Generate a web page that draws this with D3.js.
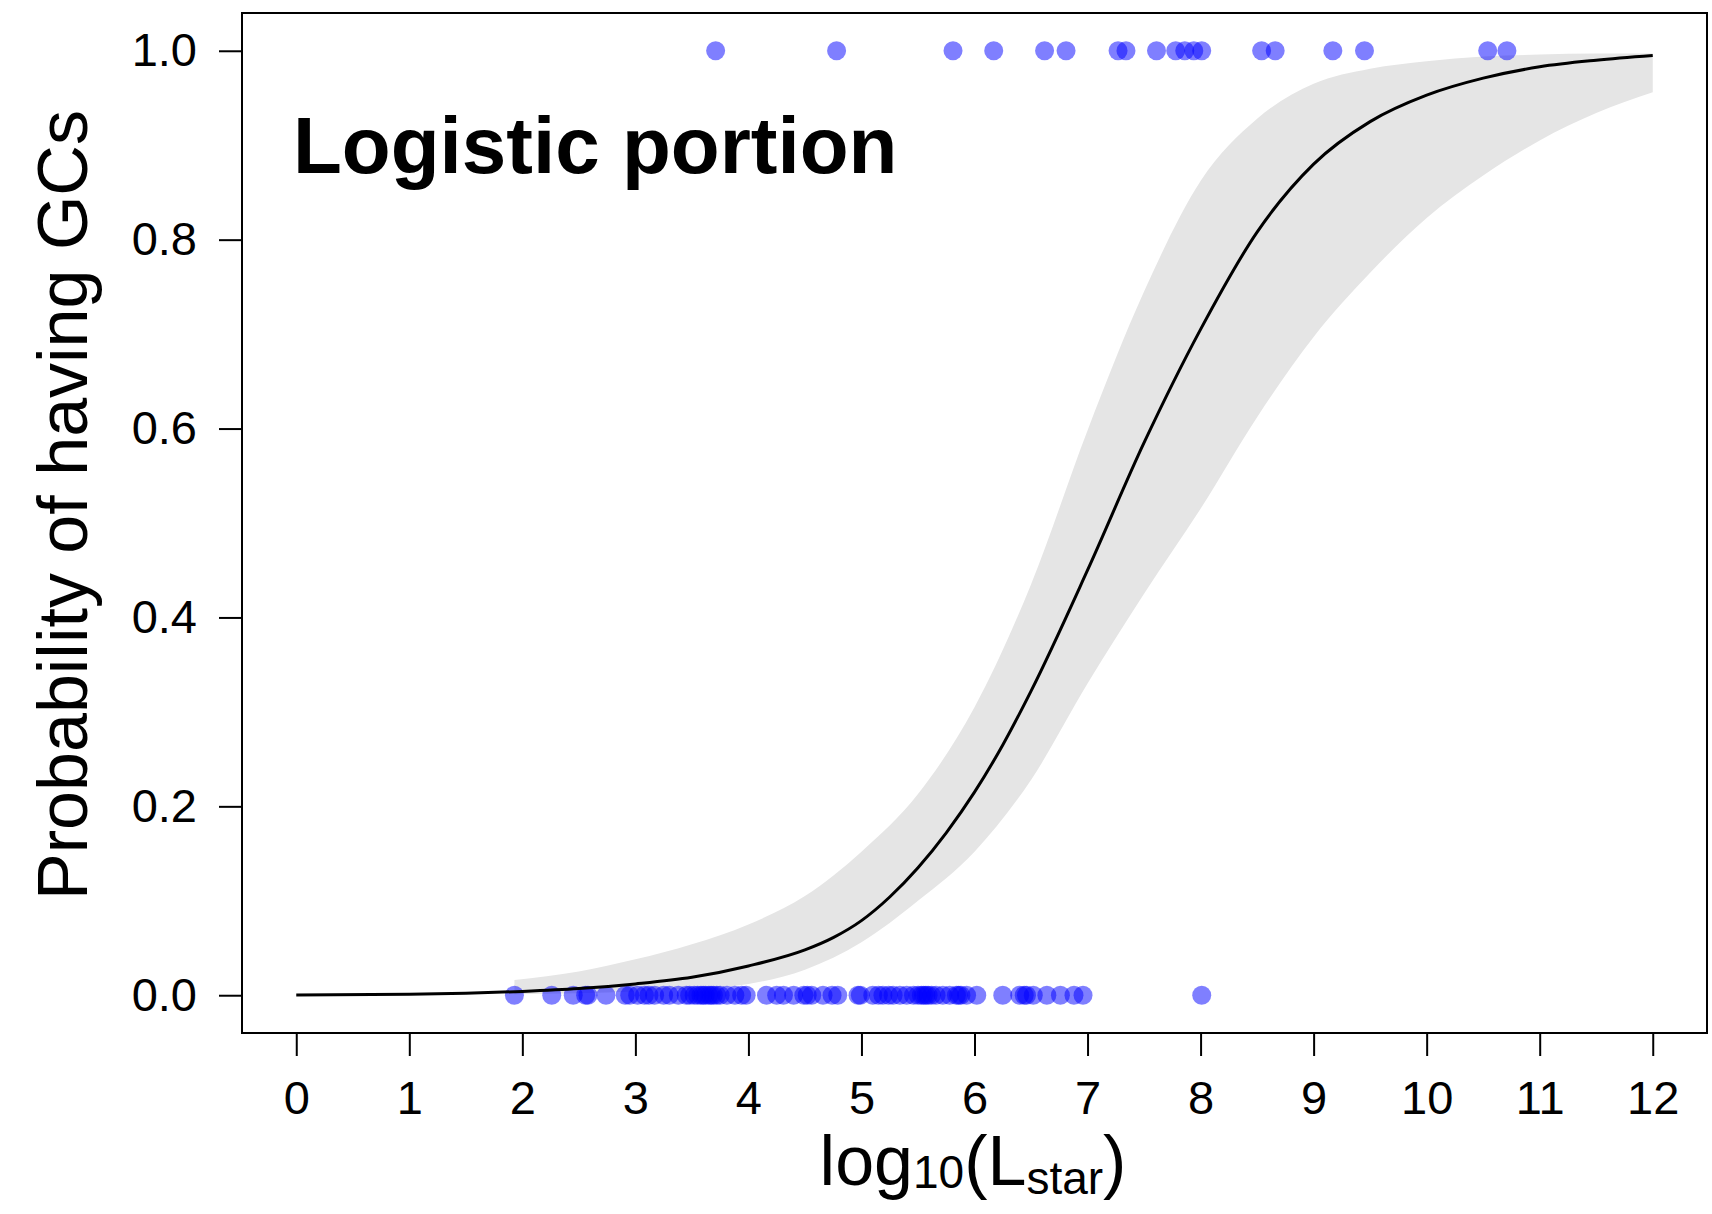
<!DOCTYPE html>
<html>
<head>
<meta charset="utf-8">
<script src="https://cdn.jsdelivr.net/npm/d3@7"></script>
<style>
  body { margin: 0; background: #fff; }
  text { font-family: "Liberation Sans", Arial, Helvetica, sans-serif; fill: #000; }
</style>
</head>
<body>
<svg id="chart" width="1712" height="1214"></svg>
<script>
// observed galaxies: log10(Lstar) with and without GCs
const withGCs = [3.71, 4.78, 5.81, 6.17, 6.62, 6.81, 7.27, 7.34, 7.61, 7.78, 7.86, 7.94, 8.01,
    8.54, 8.66, 9.17, 9.45, 10.54, 10.71];
const withoutGCs = [1.93, 2.26, 2.45, 2.56, 2.58, 2.74, 2.91, 2.95, 3.02, 3.08, 3.12, 3.17, 3.25,
    3.30, 3.38, 3.45, 3.48, 3.52, 3.55, 3.58, 3.60, 3.62, 3.65, 3.67, 3.69, 3.72, 3.75, 3.81, 3.88,
    3.94, 3.98, 4.16, 4.25, 4.31, 4.40, 4.49, 4.52, 4.56, 4.66, 4.74, 4.79, 4.97, 4.99, 5.10, 5.15,
    5.19, 5.24, 5.28, 5.34, 5.40, 5.46, 5.50, 5.53, 5.55, 5.57, 5.59, 5.62, 5.66, 5.72, 5.78, 5.84,
    5.86, 5.88, 5.93, 6.02, 6.25, 6.40, 6.44, 6.46, 6.52, 6.64, 6.76, 6.88, 6.96, 8.01];

// fitted probability curve
const curveX = [0, 1, 1.5, 2, 2.5, 3, 3.5, 4, 4.5, 4.75, 5, 5.25, 5.5, 5.75, 6, 6.25, 6.5, 7, 7.5, 8,
    8.5, 9, 9.5, 10, 10.5, 11, 11.5, 12];
const curveP = [0.0003, 0.001, 0.002, 0.004, 0.007, 0.012, 0.019, 0.031, 0.048, 0.061, 0.079, 0.104,
    0.135, 0.172, 0.215, 0.265, 0.322, 0.45, 0.585, 0.705, 0.808, 0.88, 0.925, 0.953, 0.971, 0.983,
    0.99, 0.995];

// credible band
const bandX = [1.93, 2.5, 3, 3.5, 4, 4.5, 5, 5.5, 6, 6.5, 7, 7.5, 8, 8.5, 9, 9.5, 10, 10.5, 11, 11.5, 12];
const bandLo = [0.001, 0.002, 0.004, 0.007, 0.012, 0.027, 0.056, 0.1, 0.152, 0.228, 0.33, 0.425,
    0.515, 0.612, 0.697, 0.765, 0.823, 0.868, 0.905, 0.934, 0.956];
const bandHi = [0.016, 0.025, 0.038, 0.054, 0.075, 0.105, 0.152, 0.213, 0.305, 0.435, 0.598, 0.745,
    0.862, 0.928, 0.965, 0.981, 0.989, 0.994, 0.996, 0.997, 0.997];

const xTicks = d3.range(0, 13);
const yTicks = [0, 0.2, 0.4, 0.6, 0.8, 1.0];

const svg = d3.select('#chart');
const box = {left: 242, right: 1707, top: 13, bottom: 1033};

const x = d3.scaleLinear().domain([-0.48, 12.48]).range([box.left, box.right]);
const y = d3.scaleLinear().domain([-0.04, 1.04]).range([box.bottom, box.top]);

svg.append('rect').attr('width', 1712).attr('height', 1214).attr('fill', '#fff');

// band
const band = bandX.map((v, i) => ({x: v, lo: bandLo[i], hi: bandHi[i]}));
svg.append('path')
    .datum(band)
    .attr('fill', '#e5e5e5')
    .attr('d', d3.area().x(d => x(d.x)).y0(d => y(d.lo)).y1(d => y(d.hi)).curve(d3.curveMonotoneX));

// points
const pts = withGCs.map(v => ({x: v, p: 1})).concat(withoutGCs.map(v => ({x: v, p: 0})));
svg.append('g').selectAll('circle')
    .data(pts)
    .enter().append('circle')
    .attr('cx', d => x(d.x))
    .attr('cy', d => y(d.p))
    .attr('r', 9.5)
    .attr('fill', 'rgb(0,0,255)')
    .attr('fill-opacity', 0.5);

// curve
svg.append('path')
    .datum(curveX.map((v, i) => ({x: v, p: curveP[i]})))
    .attr('fill', 'none')
    .attr('stroke', '#000')
    .attr('stroke-width', 3)
    .attr('d', d3.line().x(d => x(d.x)).y(d => y(d.p)).curve(d3.curveMonotoneX));

// frame
svg.append('rect')
    .attr('x', box.left).attr('y', box.top)
    .attr('width', box.right - box.left).attr('height', box.bottom - box.top)
    .attr('fill', 'none').attr('stroke', '#000').attr('stroke-width', 2);

// axes
const xAxis = svg.append('g')
    .attr('transform', 'translate(0,' + (box.bottom + 1) + ')')
    .call(d3.axisBottom(x).tickValues(xTicks).tickSize(22).tickPadding(25).tickFormat(d3.format('d')));
const yAxis = svg.append('g')
    .attr('transform', 'translate(' + (box.left - 1) + ',0)')
    .call(d3.axisLeft(y).tickValues(yTicks).tickSize(22).tickPadding(22).tickFormat(d3.format('.1f')));
[xAxis, yAxis].forEach(a => {
    a.select('.domain').remove();
    a.selectAll('line').attr('stroke', '#000').attr('stroke-width', 2);
    a.selectAll('text').style('font-size', '47px').attr('font-family', null);
});

// labels
svg.append('text')
    .attr('transform', 'translate(87,505) rotate(-90)')
    .attr('text-anchor', 'middle')
    .style('font-size', '70px')
    .text('Probability of having GCs');

const xl = svg.append('text')
    .attr('x', 973).attr('y', 1185)
    .attr('text-anchor', 'middle')
    .style('font-size', '70px');
xl.append('tspan').text('log');
xl.append('tspan').attr('dy', 3).style('font-size', '46px').text('10');
xl.append('tspan').attr('dy', -3).text('(L');
xl.append('tspan').attr('dy', 9).style('font-size', '46px').text('star');
xl.append('tspan').attr('dy', -9).text(')');

svg.append('text')
    .attr('x', 293).attr('y', 173)
    .style('font-size', '80px')
    .style('font-weight', 'bold')
    .text('Logistic portion');
</script>
</body>
</html>
